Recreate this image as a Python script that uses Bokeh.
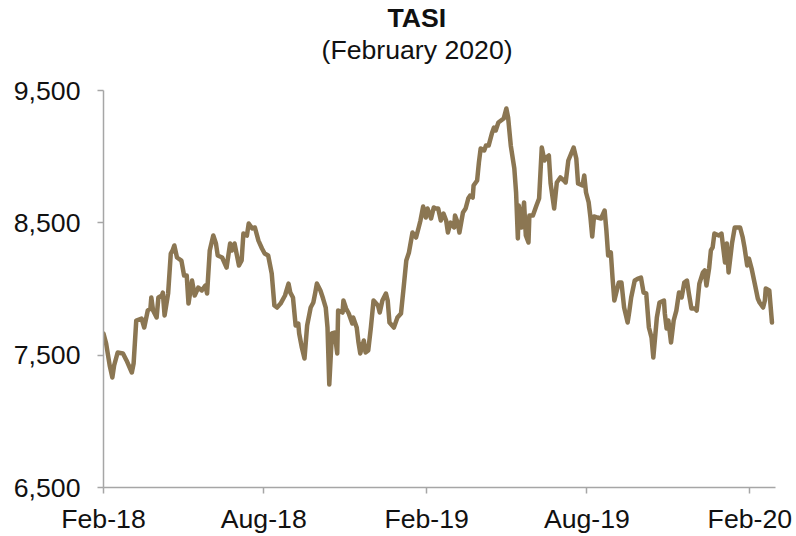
import pandas as pd
from bokeh.plotting import figure
from bokeh.models import (Range1d, FixedTicker, DatetimeTickFormatter,
                          NumeralTickFormatter, ColumnDataSource, Title)
from bokeh.embed import file_html
from bokeh.resources import INLINE

# ---- data ----
dates = [
    "2018-02-01", "2018-02-04", "2018-02-08", "2018-02-11", "2018-02-13", "2018-02-17", "2018-02-23", "2018-02-27",
    "2018-03-05", "2018-03-07", "2018-03-10", "2018-03-16", "2018-03-19", "2018-03-23", "2018-03-26", "2018-03-27",
    "2018-03-29", "2018-04-02", "2018-04-04", "2018-04-08", "2018-04-09", "2018-04-11", "2018-04-15", "2018-04-18",
    "2018-04-20", "2018-04-22", "2018-04-25", "2018-04-30", "2018-05-03", "2018-05-06", "2018-05-08", "2018-05-12",
    "2018-05-15", "2018-05-19", "2018-05-23", "2018-05-27", "2018-05-29", "2018-06-01", "2018-06-05", "2018-06-08",
    "2018-06-10", "2018-06-15", "2018-06-20", "2018-06-24", "2018-06-26", "2018-06-29", "2018-07-04", "2018-07-07",
    "2018-07-09", "2018-07-13", "2018-07-15", "2018-07-19", "2018-07-22", "2018-07-26", "2018-07-30", "2018-08-02",
    "2018-08-06", "2018-08-10", "2018-08-13", "2018-08-16", "2018-08-20", "2018-08-25", "2018-08-29", "2018-08-31",
    "2018-09-03", "2018-09-06", "2018-09-09", "2018-09-10", "2018-09-13", "2018-09-16", "2018-09-19", "2018-09-23",
    "2018-09-26", "2018-09-28", "2018-09-30", "2018-10-04", "2018-10-07", "2018-10-10", "2018-10-12", "2018-10-14",
    "2018-10-17", "2018-10-20", "2018-10-23", "2018-10-24", "2018-10-29", "2018-10-30", "2018-11-02", "2018-11-05",
    "2018-11-09", "2018-11-10", "2018-11-14", "2018-11-16", "2018-11-18", "2018-11-22", "2018-11-24", "2018-11-27",
    "2018-11-30", "2018-12-03", "2018-12-08", "2018-12-10", "2018-12-13", "2018-12-17", "2018-12-19", "2018-12-21",
    "2018-12-26", "2018-12-30", "2019-01-03", "2019-01-06", "2019-01-09", "2019-01-12", "2019-01-16", "2019-01-20",
    "2019-01-23", "2019-01-25", "2019-01-28", "2019-01-31", "2019-02-02", "2019-02-06", "2019-02-09", "2019-02-11",
    "2019-02-14", "2019-02-17", "2019-02-20", "2019-02-23", "2019-02-25", "2019-02-28", "2019-03-04", "2019-03-05",
    "2019-03-08", "2019-03-10", "2019-03-14", "2019-03-17", "2019-03-20", "2019-03-22", "2019-03-25", "2019-03-26",
    "2019-03-30", "2019-04-01", "2019-04-03", "2019-04-07", "2019-04-09", "2019-04-12", "2019-04-16", "2019-04-18",
    "2019-04-20", "2019-04-23", "2019-04-26", "2019-04-29", "2019-05-02", "2019-05-04", "2019-05-07", "2019-05-11",
    "2019-05-13", "2019-05-15", "2019-05-16", "2019-05-19", "2019-05-22", "2019-05-24", "2019-05-27", "2019-05-28",
    "2019-06-01", "2019-06-05", "2019-06-08", "2019-06-11", "2019-06-14", "2019-06-16", "2019-06-19", "2019-06-21",
    "2019-06-25", "2019-06-28", "2019-07-02", "2019-07-06", "2019-07-08", "2019-07-11", "2019-07-17", "2019-07-20",
    "2019-07-22", "2019-07-27", "2019-07-29", "2019-07-31", "2019-08-03", "2019-08-05", "2019-08-07", "2019-08-09",
    "2019-08-13", "2019-08-17", "2019-08-21", "2019-08-23", "2019-08-25", "2019-08-28", "2019-08-30", "2019-09-01",
    "2019-09-06", "2019-09-09", "2019-09-12", "2019-09-16", "2019-09-18", "2019-09-20", "2019-09-24", "2019-09-28",
    "2019-10-01", "2019-10-04", "2019-10-07", "2019-10-10", "2019-10-13", "2019-10-15", "2019-10-19", "2019-10-22",
    "2019-10-27", "2019-10-28", "2019-10-30", "2019-11-01", "2019-11-04", "2019-11-07", "2019-11-10", "2019-11-13",
    "2019-11-16", "2019-11-19", "2019-11-22", "2019-11-24", "2019-11-27", "2019-12-01", "2019-12-03", "2019-12-06",
    "2019-12-10", "2019-12-12", "2019-12-14", "2019-12-17", "2019-12-19", "2019-12-21", "2019-12-23", "2019-12-28",
    "2019-12-31", "2020-01-04", "2020-01-06", "2020-01-08", "2020-01-12", "2020-01-15", "2020-01-17", "2020-01-21",
    "2020-01-24", "2020-01-26", "2020-01-29", "2020-01-31", "2020-02-03", "2020-02-07", "2020-02-10", "2020-02-12",
    "2020-02-16", "2020-02-18", "2020-02-19", "2020-02-23", "2020-02-26",
]

tasi = [
    7664, 7588, 7422, 7331, 7422, 7520, 7513, 7460,
    7369, 7437, 7762, 7777, 7709, 7837, 7853, 7936,
    7837, 7785, 7936, 7951, 7973, 7800, 7966, 8268,
    8291, 8329, 8238, 8215, 8102, 8102, 7890, 8064,
    7951, 8011, 7989, 8026, 7966, 8291, 8404, 8344,
    8253, 8238, 8162, 8344, 8291, 8344, 8178, 8215,
    8419, 8404, 8495, 8457, 8465, 8366, 8306, 8268,
    8253, 8117, 7875, 7860, 7890, 7951, 8041, 7973,
    7936, 7724, 7739, 7664, 7558, 7475, 7724, 7860,
    7898, 7966, 8041, 7989, 7928, 7860, 7709, 7278,
    7664, 7671, 7513, 7837, 7822, 7913, 7853, 7815,
    7739, 7785, 7709, 7596, 7513, 7611, 7520, 7535,
    7709, 7913, 7875, 7822, 7913, 7966, 7913, 7747,
    7709, 7785, 7815, 8011, 8215, 8276, 8427, 8389,
    8465, 8518, 8623, 8540, 8608, 8533, 8616, 8608,
    8608, 8518, 8570, 8518, 8427, 8502, 8465, 8555,
    8502, 8427, 8578, 8608, 8684, 8706, 8691, 8782,
    8820, 8956, 9062, 9047, 9084, 9084, 9183, 9220,
    9198, 9258, 9273, 9288, 9364, 9296, 9084, 8911,
    8729, 8382, 8631, 8465, 8654, 8404, 8351, 8555,
    8555, 8631, 8684, 9069, 8971, 8994, 9009, 8797,
    8608, 8805, 8843, 8820, 8805, 8971, 9069, 8986,
    8797, 8782, 8858, 8729, 8654, 8540, 8397, 8548,
    8540, 8533, 8593, 8442, 8253, 8276, 8079, 7913,
    8049, 8049, 7860, 7747, 7837, 7936, 8064, 8079,
    8087, 7973, 7966, 7709, 7633, 7482, 7785, 7898,
    7913, 7815, 7701, 7762, 7596, 7762, 7837, 7973,
    7936, 8049, 8064, 7973, 7853, 7853, 7837, 8041,
    8125, 8140, 8026, 8155, 8291, 8314, 8419, 8404,
    8419, 8200, 8344, 8125, 8351, 8465, 8465, 8465,
    8389, 8314, 8178, 8230, 8155, 8026, 7928, 7898,
    7860, 7913, 8004, 7989, 7747,
]

x_tick_dates = ["2018-02-01", "2018-08-01", "2019-02-01", "2019-08-01", "2020-02-01"]
y_ticks = [6500, 7500, 8500, 9500]
title_text = "TASI"
subtitle_text = "(February 2020)"

# ---- styling ----
LINE_COLOR = "#8B7652"
AXIS_COLOR = "#A6A6A6"
TEXT_COLOR = "#111111"
FONT = "Liberation Sans"
FS = "26.67px"

src = ColumnDataSource(dict(date=pd.to_datetime(dates), value=tasi))

p = figure(width=796, height=536, x_axis_type="datetime",
           output_backend="svg", toolbar_location=None, title=None,
           x_range=Range1d(pd.Timestamp("2018-02-01"), pd.Timestamp("2020-03-01")),
           y_range=Range1d(6500, 9500),
           min_border_left=103, min_border_right=21,
           min_border_top=90, min_border_bottom=48)

p.line(x="date", y="value", source=src, line_color=LINE_COLOR,
       line_width=4.5, line_join="round", line_cap="round")

p.xgrid.visible = False
p.ygrid.visible = False
p.outline_line_color = None
p.background_fill_color = "white"
p.border_fill_color = "white"

p.xaxis.ticker = FixedTicker(ticks=[pd.Timestamp(d).timestamp() * 1000 for d in x_tick_dates])
fmt = "%b-%y"
p.xaxis.formatter = DatetimeTickFormatter(
    microseconds=fmt, milliseconds=fmt, seconds=fmt, minsec=fmt, minutes=fmt,
    hourmin=fmt, hours=fmt, days=fmt, months=fmt, years=fmt)
p.yaxis.ticker = FixedTicker(ticks=y_ticks)
p.yaxis.formatter = NumeralTickFormatter(format="0,0")

for ax in (p.xaxis[0], p.yaxis[0]):
    ax.axis_line_color = AXIS_COLOR
    ax.axis_line_width = 1.5
    ax.major_tick_line_color = AXIS_COLOR
    ax.major_tick_line_width = 1.5
    ax.major_tick_in = 0
    ax.major_tick_out = 6
    ax.minor_tick_line_color = None
    ax.major_label_text_font = FONT
    ax.major_label_text_font_size = FS
    ax.major_label_text_color = TEXT_COLOR

p.xaxis.major_label_standoff = 10
p.yaxis.major_label_standoff = 17

# titles: spacer next to the frame, then subtitle, then main title on top
p.add_layout(Title(text=" ", text_font_size="1px", standoff=23), "above")
p.add_layout(Title(text=subtitle_text, text_font=FONT, text_font_size=FS,
                   text_font_style="normal", text_color=TEXT_COLOR,
                   align="left", offset=218, standoff=0), "above")
p.add_layout(Title(text=title_text, text_font=FONT, text_font_size=FS,
                   text_font_style="bold", text_color=TEXT_COLOR,
                   align="left", offset=284, standoff=0), "above")

open("out.html", "w").write(file_html(p, INLINE))
